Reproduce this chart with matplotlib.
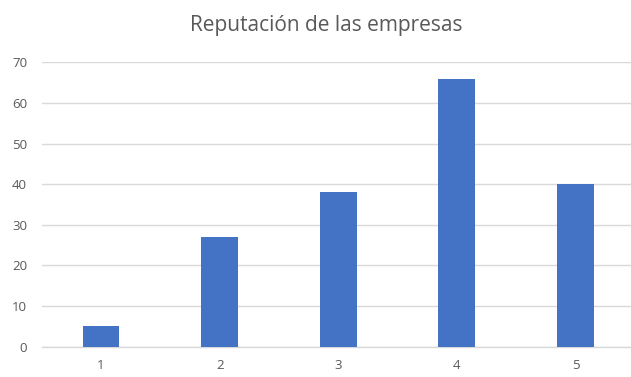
import matplotlib
matplotlib.use("Agg")
import matplotlib.pyplot as plt

categories = ["1", "2", "3", "4", "5"]
values = [5, 27, 38, 66, 40]
yticks = [0, 10, 20, 30, 40, 50, 60, 70]
title = "Reputación de las empresas"

plt.rcParams['font.family'] = ['Open Sans', 'DejaVu Sans']

fig = plt.figure(figsize=(6.31, 3.77), dpi=100)
ax = fig.add_axes([41.7/631, 30.3/377, 593.1/631, 284.4/377])
x = list(range(1, len(categories) + 1))
ax.bar(x, values, width=0.31, color="#4472C4", zorder=3)
ax.set_xlim(0.5, 5.5)
ax.set_ylim(0, 70)
ax.set_yticks(yticks)
ax.set_xticks(x)
ax.set_xticklabels(categories)
ax.grid(axis='y', color="#D9D9D9", linewidth=1.0, zorder=0)
for s in ['top', 'right', 'left']:
    ax.spines[s].set_visible(False)
ax.spines['bottom'].set_color("#D9D9D9")
ax.spines['bottom'].set_linewidth(1.0)
ax.tick_params(axis='both', length=0, colors="#595959", labelsize=9.5)
ax.tick_params(axis='y', pad=10.5)
ax.tick_params(axis='x', pad=9)
fig.text(326/631, 1 - 25/377, title, ha='center', va='center', fontsize=15, color="#595959")
fig.savefig("out.png", dpi=100)
